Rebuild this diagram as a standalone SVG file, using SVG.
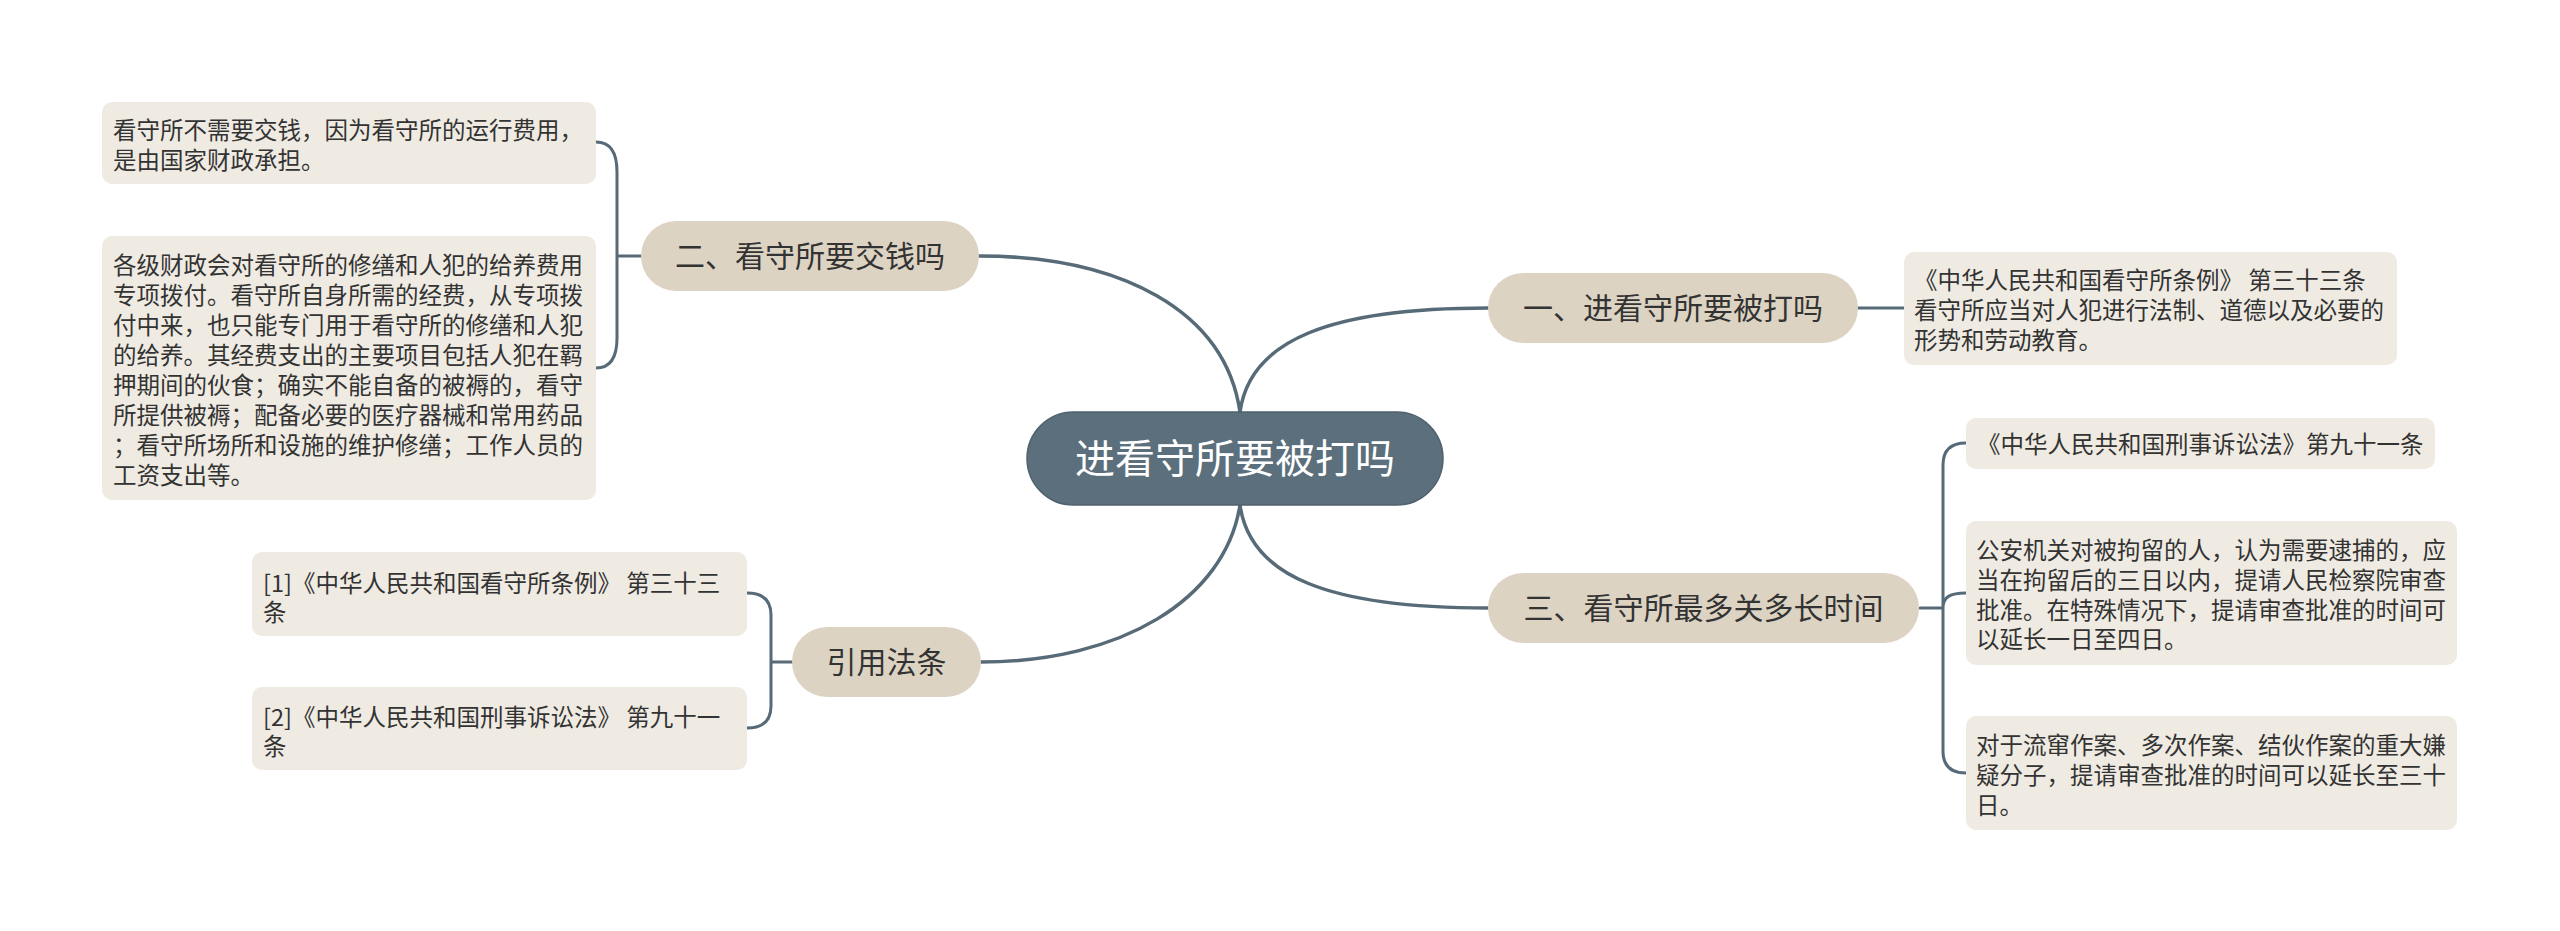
<svg xmlns="http://www.w3.org/2000/svg" width="2560" height="931" viewBox="0 0 2560 931">
<style>
text{font-family:"Noto Sans CJK SC","Noto Sans",sans-serif;fill:#333333}
.leaf rect{fill:#efebe3}
.leaf text{font-size:23.5px}
.topic rect{fill:#ddd3c3}
.topic text{font-size:30px;text-anchor:middle}
.root rect{fill:#5b6f7c;stroke:#4f626e;stroke-width:1.5}
.root text{font-size:40px;fill:#ffffff;text-anchor:middle}
.conn path{fill:none;stroke:#566a77;stroke-linecap:round}
.main{stroke-width:3.5}
.sub{stroke-width:3}
</style>
<rect width="2560" height="931" fill="#ffffff"/>
<g id="connectors" class="conn">
<path class="main" d="M1240,412 C1225,310 1120,256 979,256"/>
<path class="main" d="M1240,412 C1250,340 1330,308 1488,308"/>
<path class="main" d="M1240,505 C1250,577 1330,608 1488,608"/>
<path class="main" d="M1240,505 C1225,600 1120,662 981,662"/>
<path class="sub" d="M641,256 H617 M617,256 V172 Q617,142 596,142 M617,256 V338 Q617,368 596,368"/>
<path class="sub" d="M1858,308 H1904"/>
<path class="sub" d="M1920,608 H1943 M1943,608 V465 Q1943,443 1966,443 M1943,608 C1943,597 1950,593 1966,593 M1943,608 V751 Q1943,773 1966,773"/>
<path class="sub" d="M792,662 H771 M771,662 V615 Q771,593 747,593 M771,662 V706 Q771,728 747,728"/>
</g>
<g id="root" class="root">
<rect x="1027" y="412" width="416" height="93" rx="46.5"/>
<text x="1235" y="473">进看守所要被打吗</text>
</g>
<g id="topic1" class="topic">
<rect x="1488" y="273" width="370" height="70" rx="35"/>
<text x="1673" y="319">一、进看守所要被打吗</text>
</g>
<g id="topic2" class="topic">
<rect x="641" y="221" width="338" height="70" rx="35"/>
<text x="810" y="267">二、看守所要交钱吗</text>
</g>
<g id="topic3" class="topic">
<rect x="1488" y="573" width="431" height="70" rx="35"/>
<text x="1703.5" y="619">三、看守所最多关多长时间</text>
</g>
<g id="topic4" class="topic">
<rect x="792" y="627" width="189" height="70" rx="35"/>
<text x="886.5" y="673">引用法条</text>
</g>
<g id="leafA" class="leaf">
<rect x="102" y="102" width="494" height="82" rx="10"/>
<text x="113" y="139">看守所不需要交钱，因为看守所的运行费用，</text>
<text x="113" y="169">是由国家财政承担。</text>
</g>
<g id="leafB" class="leaf">
<rect x="102" y="236" width="494" height="264" rx="10"/>
<text x="113" y="274">各级财政会对看守所的修缮和人犯的给养费用</text>
<text x="113" y="304">专项拨付。看守所自身所需的经费，从专项拨</text>
<text x="113" y="334">付中来，也只能专门用于看守所的修缮和人犯</text>
<text x="113" y="364">的给养。其经费支出的主要项目包括人犯在羁</text>
<text x="113" y="394">押期间的伙食；确实不能自备的被褥的，看守</text>
<text x="113" y="424">所提供被褥；配备必要的医疗器械和常用药品</text>
<text x="113" y="454">；看守所场所和设施的维护修缮；工作人员的</text>
<text x="113" y="484">工资支出等。</text>
</g>
<g id="leafC" class="leaf">
<rect x="1904" y="252" width="493" height="113" rx="10"/>
<text x="1914" y="289">《中华人民共和国看守所条例》 第三十三条</text>
<text x="1914" y="319">看守所应当对人犯进行法制、道德以及必要的</text>
<text x="1914" y="349">形势和劳动教育。</text>
</g>
<g id="leafD" class="leaf">
<rect x="1966" y="418" width="469" height="51" rx="10"/>
<text x="1977" y="453">《中华人民共和国刑事诉讼法》第九十一条</text>
</g>
<g id="leafE" class="leaf">
<rect x="1966" y="521" width="491" height="144" rx="10"/>
<text x="1976" y="559">公安机关对被拘留的人，认为需要逮捕的，应</text>
<text x="1976" y="589">当在拘留后的三日以内，提请人民检察院审查</text>
<text x="1976" y="619">批准。在特殊情况下，提请审查批准的时间可</text>
<text x="1976" y="648">以延长一日至四日。</text>
</g>
<g id="leafF" class="leaf">
<rect x="1966" y="716" width="491" height="114" rx="10"/>
<text x="1976" y="754">对于流窜作案、多次作案、结伙作案的重大嫌</text>
<text x="1976" y="784">疑分子，提请审查批准的时间可以延长至三十</text>
<text x="1976" y="814">日。</text>
</g>
<g id="leafG" class="leaf">
<rect x="252" y="552" width="495" height="84" rx="10"/>
<text x="263" y="592">[1]《中华人民共和国看守所条例》 第三十三</text>
<text x="263" y="621">条</text>
</g>
<g id="leafH" class="leaf">
<rect x="252" y="687" width="495" height="83" rx="10"/>
<text x="263" y="726">[2]《中华人民共和国刑事诉讼法》 第九十一</text>
<text x="263" y="755">条</text>
</g>
</svg>
